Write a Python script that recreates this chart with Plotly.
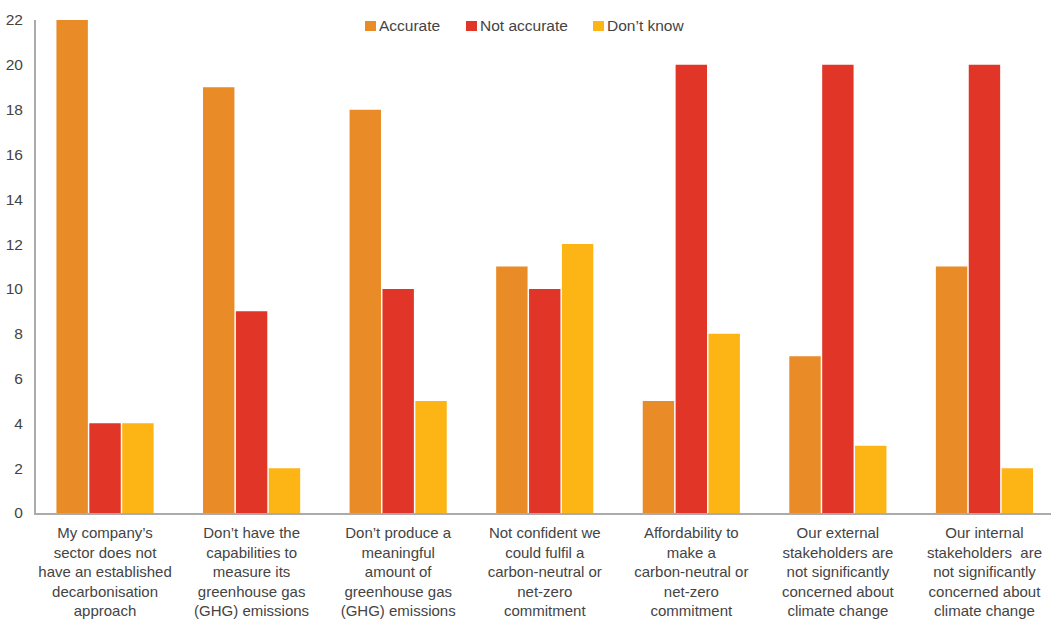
import plotly.graph_objects as go

categories = [
    "My company’s<br>sector does not<br>have an established<br>decarbonisation<br>approach",
    "Don’t have the<br>capabilities to<br>measure its<br>greenhouse gas<br>(GHG) emissions",
    "Don’t produce a<br>meaningful<br>amount of<br>greenhouse gas<br>(GHG) emissions",
    "Not confident we<br>could fulfil a<br>carbon-neutral or<br>net-zero<br>commitment",
    "Affordability to<br>make a<br>carbon-neutral or<br>net-zero<br>commitment",
    "Our external<br>stakeholders are<br>not significantly<br>concerned about<br>climate change",
    "Our internal<br>stakeholders  are<br>not significantly<br>concerned about<br>climate change",
]
series_names = ["Accurate", "Not accurate", "Don’t know"]
accurate = [22, 19, 18, 11, 5, 7, 11]
not_accurate = [4, 9, 10, 10, 20, 20, 20]
dont_know = [4, 2, 5, 12, 8, 3, 2]
y_ticks = [0, 2, 4, 6, 8, 10, 12, 14, 16, 18, 20, 22]

FONT = "Liberation Sans, Arial, sans-serif"
TEXT = "#444444"
AXIS = "#ABABAB"
COLORS = ["#E98B27", "#E03527", "#FDB515"]

W, H = 1051, 619
ML, MR, MT, MB = 36, 0, 20, 106
PW, PH = W - ML - MR, H - MT - MB

fig = go.Figure()
for name, vals, color in zip(series_names, [accurate, not_accurate, dont_know], COLORS):
    fig.add_trace(go.Bar(
        x=list(range(len(categories))), y=vals, name=name,
        marker=dict(color=color, line=dict(width=0)),
    ))

# legend row across the top: small colour squares followed by their labels
def px_x(p):
    return (p - ML) / PW

def px_y(p):
    return (H - MB - p) / PH

legend_square_left = [365, 466, 593]
for name, color, left in zip(series_names, COLORS, legend_square_left):
    fig.add_shape(
        type="rect", xref="paper", yref="paper",
        x0=px_x(left), x1=px_x(left + 11), y0=px_y(31), y1=px_y(21),
        fillcolor=color, line=dict(width=0), layer="above",
    )
    fig.add_annotation(
        x=px_x(left + 13), y=px_y(26), xref="paper", yref="paper",
        xanchor="left", yanchor="middle", text=name, showarrow=False,
        font=dict(family=FONT, size=15.5, color=TEXT), borderpad=0,
    )

fig.update_layout(
    width=W, height=H,
    margin=dict(l=ML, r=MR, t=MT, b=MB, autoexpand=False),
    paper_bgcolor="white", plot_bgcolor="white",
    barmode="group", bargap=0.327, bargroupgap=0.045,
    font=dict(family=FONT, size=15, color=TEXT),
    showlegend=False,
    xaxis=dict(
        tickmode="array", tickvals=list(range(len(categories))), ticktext=categories,
        range=[-0.471, 6.454], showgrid=False, zeroline=False,
        showline=True, linecolor=AXIS, linewidth=2, ticks="",
        ticklabelstandoff=5, automargin=False,
        tickfont=dict(family=FONT, size=15, color=TEXT),
    ),
    yaxis=dict(
        range=[0, 22], tickvals=y_ticks, showgrid=False, zeroline=False,
        showline=True, linecolor=AXIS, linewidth=2, ticks="",
        ticklabelstandoff=8, automargin=False,
        tickfont=dict(family=FONT, size=15.5, color=TEXT),
    ),
)

fig.write_html("out.html")
